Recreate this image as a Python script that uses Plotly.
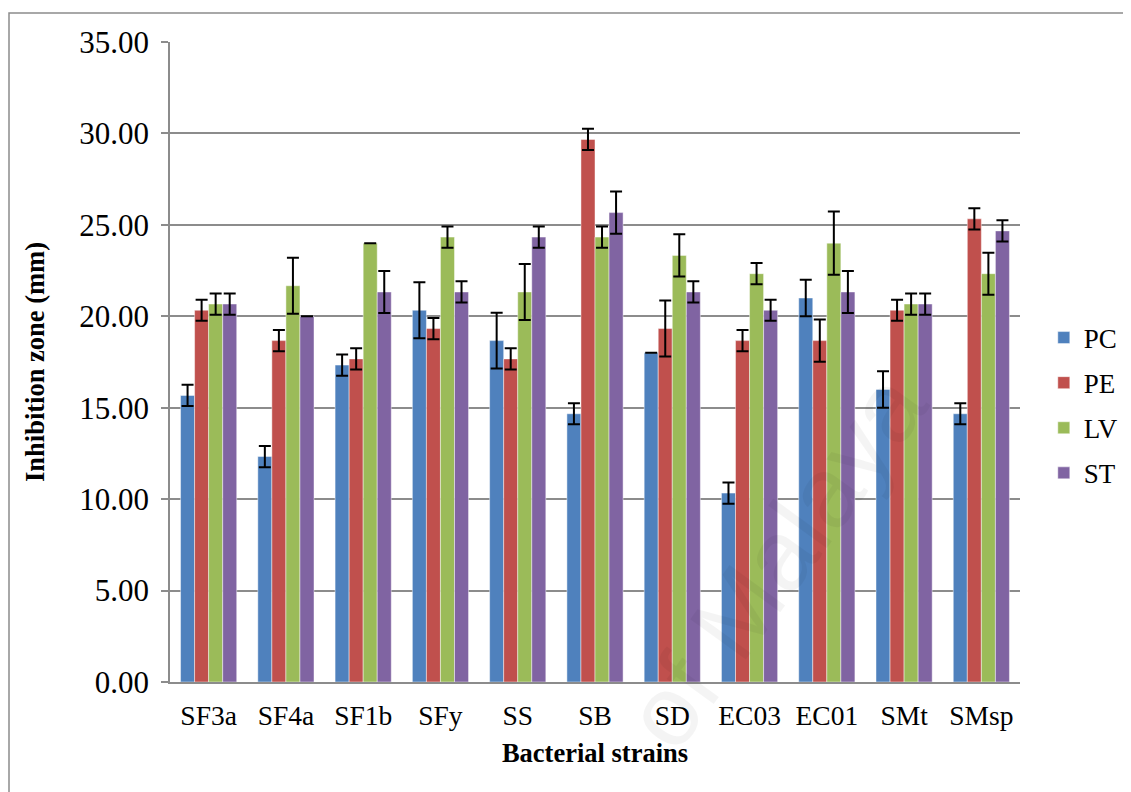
import plotly.graph_objects as go

categories = ["SF3a", "SF4a", "SF1b", "SFy", "SS", "SB", "SD", "EC03", "EC01", "SMt", "SMsp"]

pc = [15.67, 12.33, 17.33, 20.33, 18.67, 14.67, 18.00, 10.33, 21.00, 16.00, 14.67]
pe = [20.33, 18.67, 17.67, 19.33, 17.67, 29.67, 19.33, 18.67, 18.67, 20.33, 25.33]
lv = [20.67, 21.67, 24.00, 24.33, 21.33, 24.33, 23.33, 22.33, 24.00, 20.67, 22.33]
st = [20.67, 20.00, 21.33, 21.33, 24.33, 25.67, 21.33, 20.33, 21.33, 20.67, 24.67]

pc_err = [0.58, 0.58, 0.58, 1.53, 1.53, 0.58, 0.00, 0.58, 1.00, 1.00, 0.58]
pe_err = [0.58, 0.58, 0.58, 0.58, 0.58, 0.58, 1.53, 0.58, 1.15, 0.58, 0.58]
lv_err = [0.58, 1.53, 0.00, 0.58, 1.53, 0.58, 1.15, 0.58, 1.73, 0.58, 1.15]
st_err = [0.58, 0.00, 1.15, 0.58, 0.58, 1.15, 0.58, 0.58, 1.15, 0.58, 0.58]

series = [
    ("PC", pc, pc_err, "#4F81BD"),
    ("PE", pe, pe_err, "#C0504D"),
    ("LV", lv, lv_err, "#9BBB59"),
    ("ST", st, st_err, "#8064A2"),
]

font_family = "Liberation Serif, Times New Roman, serif"

# page has an 8px body margin, so the figure starts at (8, 8)
W, H = 1123, 784
L, T, R, B = 162, 34, 1012, 674  # plot area in figure coordinates

fig = go.Figure()
for name, vals, errs, color in series:
    fig.add_trace(go.Bar(
        name=name, x=categories, y=vals,
        marker=dict(color=color, line=dict(color="rgba(255,255,255,0.45)", width=1)),
        error_y=dict(type="data", array=errs, visible=True, color="black",
                     thickness=2, width=6),
        legendgroup=name,
    ))

fig.update_layout(
    width=W, height=H,
    barmode="group", bargap=0.273, bargroupgap=0,
    plot_bgcolor="white", paper_bgcolor="white",
    margin=dict(l=L, r=W - R, t=T, b=H - B, autoexpand=False),
    font=dict(family=font_family, color="black", size=26),
    showlegend=True,
    legend=dict(x=1.028, y=0.432, xanchor="left", yanchor="middle",
                font=dict(size=27, family=font_family),
                traceorder="grouped", tracegroupgap=7,
                bgcolor="rgba(0,0,0,0)"),
    xaxis=dict(
        showline=True, linecolor="#8c8c8c", linewidth=1.5,
        ticks="", tickfont=dict(size=27.5), ticklabelstandoff=8,
        title=dict(text="<b>Bacterial strains</b>", font=dict(size=26.5), standoff=14),
    ),
    yaxis=dict(
        range=[0, 35], dtick=5, tickformat=".2f",
        showgrid=True, gridcolor="#8c8c8c", gridwidth=1.5,
        showline=True, linecolor="#8c8c8c", linewidth=1.5,
        ticks="outside", ticklen=7, tickcolor="#8c8c8c", tickwidth=1.5,
        tickfont=dict(size=31), ticklabelstandoff=6,
        zeroline=False,
        title=dict(text="<b>Inhibition zone (mm)</b>", font=dict(size=26.5), standoff=27),
    ),
)

# outer chart frame
fig.add_shape(type="rect", xref="paper", yref="paper",
              x0=(1 - L) / (R - L), x1=(1122 - L) / (R - L),
              y0=(B - 800) / (B - T), y1=(B - 5) / (B - T),
              line=dict(color="#8c8c8c", width=1.5), layer="below")

# faint watermark
fig.add_annotation(text="of Malaya", xref="paper", yref="paper",
                   x=(767 - L) / (R - L), y=(B - 552) / (B - T),
                   xanchor="center", yanchor="middle",
                   showarrow=False, textangle=-54,
                   font=dict(size=100, family="Liberation Sans, Arial, sans-serif",
                             color="rgba(0,0,0,0.045)"))

fig.write_html("out.html")
